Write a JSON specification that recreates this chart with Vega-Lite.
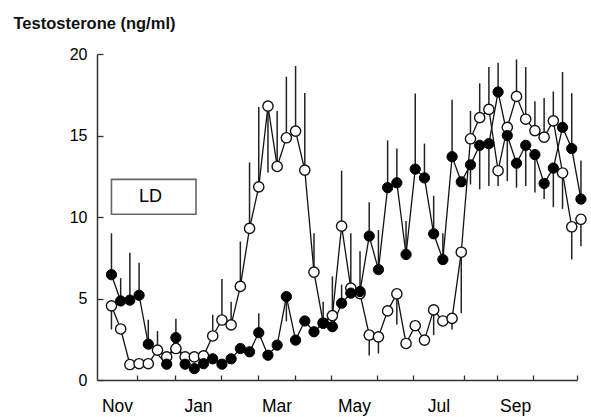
{
  "$schema": "https://vega.github.io/schema/vega-lite/v6.json",
  "width": 480,
  "height": 326,
  "autosize": {"type": "none"},
  "padding": {"left": 97, "top": 54, "right": 14, "bottom": 37},
  "background": "white",
  "config": {"view": {"stroke": null}, "font": "Liberation Sans", "axis": {"grid": false}},
  "resolve": {"axis": {"x": "independent", "y": "independent"}},
  "datasets": {
    "obs": [
      {"w":0,"day":11,"g":"filled","t":6.46,"lo":6.46,"hi":9.0},
      {"w":1,"day":18,"g":"filled","t":4.85,"lo":4.85,"hi":6.25},
      {"w":2,"day":25,"g":"filled","t":4.9,"lo":4.9,"hi":7.8},
      {"w":3,"day":32,"g":"filled","t":5.2,"lo":5.2,"hi":7.2},
      {"w":4,"day":39,"g":"filled","t":2.2,"lo":2.2,"hi":3.7},
      {"w":6,"day":53,"g":"filled","t":0.97,"lo":0.97,"hi":0.97},
      {"w":7,"day":60,"g":"filled","t":2.6,"lo":2.6,"hi":3.75},
      {"w":8,"day":67,"g":"filled","t":0.97,"lo":0.97,"hi":0.97},
      {"w":9,"day":74,"g":"filled","t":0.7,"lo":0.7,"hi":0.7},
      {"w":10,"day":81,"g":"filled","t":1.0,"lo":1.0,"hi":1.0},
      {"w":11,"day":88,"g":"filled","t":1.3,"lo":1.3,"hi":1.3},
      {"w":12,"day":95,"g":"filled","t":0.97,"lo":0.97,"hi":0.97},
      {"w":13,"day":102,"g":"filled","t":1.3,"lo":1.3,"hi":1.3},
      {"w":14,"day":109,"g":"filled","t":1.93,"lo":1.93,"hi":1.93},
      {"w":15,"day":116,"g":"filled","t":1.73,"lo":1.73,"hi":1.73},
      {"w":16,"day":123,"g":"filled","t":2.9,"lo":2.9,"hi":4.1},
      {"w":17,"day":130,"g":"filled","t":1.52,"lo":1.52,"hi":1.52},
      {"w":18,"day":137,"g":"filled","t":2.14,"lo":2.14,"hi":2.14},
      {"w":19,"day":144,"g":"filled","t":5.12,"lo":3.6,"hi":5.12},
      {"w":20,"day":151,"g":"filled","t":2.45,"lo":2.45,"hi":2.45},
      {"w":21,"day":158,"g":"filled","t":3.62,"lo":3.62,"hi":3.62},
      {"w":22,"day":165,"g":"filled","t":2.96,"lo":2.96,"hi":2.96},
      {"w":23,"day":172,"g":"filled","t":3.48,"lo":3.48,"hi":4.8},
      {"w":24,"day":179,"g":"filled","t":3.27,"lo":3.27,"hi":3.27},
      {"w":25,"day":186,"g":"filled","t":4.71,"lo":4.71,"hi":5.85},
      {"w":26,"day":193,"g":"filled","t":5.33,"lo":5.33,"hi":5.33},
      {"w":27,"day":200,"g":"filled","t":5.43,"lo":5.43,"hi":7.9},
      {"w":28,"day":207,"g":"filled","t":8.83,"lo":8.83,"hi":10.9},
      {"w":29,"day":214,"g":"filled","t":6.77,"lo":6.77,"hi":9.2},
      {"w":30,"day":221,"g":"filled","t":11.8,"lo":11.8,"hi":14.7},
      {"w":31,"day":228,"g":"filled","t":12.1,"lo":12.1,"hi":14.2},
      {"w":32,"day":235,"g":"filled","t":7.7,"lo":7.7,"hi":9.75},
      {"w":33,"day":242,"g":"filled","t":12.94,"lo":12.94,"hi":17.57},
      {"w":34,"day":249,"g":"filled","t":12.4,"lo":12.4,"hi":14.5},
      {"w":35,"day":256,"g":"filled","t":8.97,"lo":8.97,"hi":11.3},
      {"w":36,"day":263,"g":"filled","t":7.39,"lo":7.39,"hi":9.0},
      {"w":37,"day":270,"g":"filled","t":13.7,"lo":13.7,"hi":17.2},
      {"w":38,"day":277,"g":"filled","t":12.16,"lo":12.16,"hi":12.16},
      {"w":39,"day":284,"g":"filled","t":13.2,"lo":12.0,"hi":13.2},
      {"w":40,"day":291,"g":"filled","t":14.4,"lo":11.7,"hi":14.4},
      {"w":41,"day":298,"g":"filled","t":14.5,"lo":11.9,"hi":14.5},
      {"w":42,"day":305,"g":"filled","t":17.67,"lo":17.67,"hi":19.46},
      {"w":43,"day":312,"g":"filled","t":15.0,"lo":12.2,"hi":15.0},
      {"w":44,"day":319,"g":"filled","t":13.3,"lo":11.8,"hi":13.3},
      {"w":45,"day":326,"g":"filled","t":14.4,"lo":11.9,"hi":14.4},
      {"w":46,"day":333,"g":"filled","t":13.83,"lo":11.5,"hi":13.83},
      {"w":47,"day":340,"g":"filled","t":12.06,"lo":11.1,"hi":12.06},
      {"w":48,"day":347,"g":"filled","t":13.0,"lo":10.6,"hi":13.0},
      {"w":49,"day":354,"g":"filled","t":15.5,"lo":15.5,"hi":18.9},
      {"w":50,"day":361,"g":"filled","t":14.2,"lo":14.2,"hi":17.6},
      {"w":51,"day":368,"g":"filled","t":11.1,"lo":11.1,"hi":13.46},
      {"w":0,"day":11,"g":"open","t":4.55,"lo":3.1,"hi":4.55},
      {"w":1,"day":18,"g":"open","t":3.13,"lo":3.13,"hi":3.13},
      {"w":2,"day":25,"g":"open","t":0.95,"lo":0.95,"hi":0.95},
      {"w":3,"day":32,"g":"open","t":1.0,"lo":1.0,"hi":1.0},
      {"w":4,"day":39,"g":"open","t":1.0,"lo":1.0,"hi":1.0},
      {"w":5,"day":46,"g":"open","t":1.83,"lo":1.83,"hi":3.0},
      {"w":6,"day":53,"g":"open","t":1.42,"lo":1.42,"hi":1.42},
      {"w":7,"day":60,"g":"open","t":1.93,"lo":1.93,"hi":1.93},
      {"w":8,"day":67,"g":"open","t":1.42,"lo":1.42,"hi":1.42},
      {"w":9,"day":74,"g":"open","t":1.42,"lo":1.42,"hi":1.42},
      {"w":10,"day":81,"g":"open","t":1.48,"lo":1.48,"hi":1.48},
      {"w":11,"day":88,"g":"open","t":2.7,"lo":2.7,"hi":4.0},
      {"w":12,"day":95,"g":"open","t":3.68,"lo":3.68,"hi":6.2},
      {"w":13,"day":102,"g":"open","t":3.38,"lo":3.38,"hi":4.8},
      {"w":14,"day":109,"g":"open","t":5.74,"lo":5.74,"hi":8.5},
      {"w":15,"day":116,"g":"open","t":9.3,"lo":9.3,"hi":13.35},
      {"w":16,"day":123,"g":"open","t":11.85,"lo":11.85,"hi":16.75},
      {"w":17,"day":130,"g":"open","t":16.8,"lo":12.73,"hi":16.8},
      {"w":18,"day":137,"g":"open","t":13.1,"lo":13.1,"hi":16.5},
      {"w":19,"day":144,"g":"open","t":14.86,"lo":14.86,"hi":18.6},
      {"w":20,"day":151,"g":"open","t":15.27,"lo":15.27,"hi":19.26},
      {"w":21,"day":158,"g":"open","t":12.88,"lo":12.88,"hi":17.6},
      {"w":22,"day":165,"g":"open","t":6.62,"lo":6.62,"hi":9.0},
      {"w":23,"day":172,"g":"open","t":3.5,"lo":3.5,"hi":3.5},
      {"w":24,"day":179,"g":"open","t":3.95,"lo":3.95,"hi":6.36},
      {"w":25,"day":186,"g":"open","t":9.44,"lo":9.44,"hi":12.84},
      {"w":26,"day":193,"g":"open","t":5.64,"lo":5.64,"hi":9.0},
      {"w":27,"day":200,"g":"open","t":5.3,"lo":5.3,"hi":5.3},
      {"w":28,"day":207,"g":"open","t":2.76,"lo":1.5,"hi":2.76},
      {"w":29,"day":214,"g":"open","t":2.65,"lo":1.63,"hi":2.65},
      {"w":30,"day":221,"g":"open","t":4.24,"lo":4.24,"hi":4.24},
      {"w":31,"day":228,"g":"open","t":5.29,"lo":3.4,"hi":5.29},
      {"w":32,"day":235,"g":"open","t":2.24,"lo":2.24,"hi":2.24},
      {"w":33,"day":242,"g":"open","t":3.33,"lo":3.33,"hi":3.33},
      {"w":34,"day":249,"g":"open","t":2.45,"lo":2.45,"hi":2.45},
      {"w":35,"day":256,"g":"open","t":4.3,"lo":2.75,"hi":4.3},
      {"w":36,"day":263,"g":"open","t":3.62,"lo":3.62,"hi":3.62},
      {"w":37,"day":270,"g":"open","t":3.78,"lo":3.1,"hi":3.78},
      {"w":38,"day":277,"g":"open","t":7.84,"lo":4.1,"hi":7.84},
      {"w":39,"day":284,"g":"open","t":14.8,"lo":14.8,"hi":16.5},
      {"w":40,"day":291,"g":"open","t":16.1,"lo":16.1,"hi":18.2},
      {"w":41,"day":298,"g":"open","t":16.6,"lo":16.6,"hi":19.2},
      {"w":42,"day":305,"g":"open","t":12.84,"lo":11.9,"hi":12.84},
      {"w":43,"day":312,"g":"open","t":15.5,"lo":15.5,"hi":15.5},
      {"w":44,"day":319,"g":"open","t":17.4,"lo":17.4,"hi":19.67},
      {"w":45,"day":326,"g":"open","t":16.0,"lo":16.0,"hi":19.2},
      {"w":46,"day":333,"g":"open","t":15.3,"lo":15.3,"hi":17.1},
      {"w":47,"day":340,"g":"open","t":14.9,"lo":14.9,"hi":17.3},
      {"w":48,"day":347,"g":"open","t":15.9,"lo":15.9,"hi":17.7},
      {"w":49,"day":354,"g":"open","t":12.7,"lo":10.5,"hi":12.7},
      {"w":50,"day":361,"g":"open","t":9.4,"lo":7.4,"hi":9.4},
      {"w":51,"day":368,"g":"open","t":9.86,"lo":8.2,"hi":9.86}
    ],
    "tag": [{"x1": 11, "x2": 75.3, "y1": 10.17, "y2": 12.31, "xm": 40.7, "ym": 11.25, "label": "LD"}]
  },
  "layer": [
    {
      "data": {"name": "obs"},
      "mark": {"type": "rule", "color": "#222", "strokeWidth": 1.5},
      "encoding": {
        "x": {
          "field": "day", "type": "quantitative", "title": null,
          "scale": {"domain": [0, 365], "nice": false, "zero": false},
          "axis": {
            "orient": "top", "offset": -326,
            "values": [30.4, 59.3, 94.3, 122.4, 150.6, 177.9, 212.9, 240.3, 279.1, 304.2, 331.5, 365],
            "labels": false, "title": null,
            "tickSize": 5, "tickColor": "#333", "tickWidth": 1.3,
            "domainColor": "#333", "domainWidth": 1.5
          }
        },
        "y": {
          "field": "lo", "type": "quantitative", "title": null,
          "scale": {"domain": [0, 20], "nice": false, "zero": true},
          "axis": {
            "orient": "right", "offset": -480,
            "values": [0, 5, 10, 15, 20], "labels": false, "title": null,
            "tickSize": 6, "tickColor": "#333", "tickWidth": 1.3,
            "domainColor": "#333", "domainWidth": 1.5
          }
        },
        "y2": {"field": "hi"}
      }
    },
    {
      "data": {"name": "obs"},
      "mark": {"type": "line", "color": "#111", "strokeWidth": 1.3},
      "encoding": {
        "x": {
          "field": "day", "type": "quantitative", "title": null,
          "axis": {
            "orient": "bottom", "title": null,
            "values": [15.2, 76.8, 136.5, 195.4, 259.7, 317.9],
            "labelExpr": "datum.value==15.2?'Nov':datum.value==76.8?'Jan':datum.value==136.5?'Mar':datum.value==195.4?'May':datum.value==259.7?'Jul':'Sep'",
            "ticks": false, "tickSize": 0, "domain": false,
            "labelFontSize": 17.5, "labelColor": "#000", "labelPadding": 17,
            "labelOverlap": false, "labelBound": false, "labelFlush": false
          }
        },
        "y": {
          "field": "t", "type": "quantitative", "title": "Testosterone (ng/ml)",
          "axis": {
            "orient": "left",
            "values": [0, 5, 10, 15, 20],
            "ticks": false, "tickSize": 0, "domain": false,
            "labelFontSize": 16, "labelColor": "#000", "labelPadding": 10,
            "labelOverlap": false, "labelFlush": false,
            "titleAngle": 0, "titleAlign": "left", "titleBaseline": "alphabetic",
            "titleX": -84, "titleY": -26, "titleFontSize": 16.5, "titleFontWeight": "bold", "titleColor": "#111"
          }
        },
        "detail": {"field": "g"},
        "order": {"field": "w"}
      }
    },
    {
      "data": {"name": "obs"},
      "transform": [{"filter": "datum.g=='open'"}],
      "mark": {"type": "point", "shape": "circle", "filled": true, "fill": "white", "stroke": "#111", "strokeWidth": 1.4, "size": 105, "opacity": 1},
      "encoding": {
        "x": {"field": "day", "type": "quantitative", "axis": null},
        "y": {"field": "t", "type": "quantitative", "axis": null}
      }
    },
    {
      "data": {"name": "obs"},
      "transform": [{"filter": "datum.g=='filled'"}],
      "mark": {"type": "point", "shape": "circle", "filled": true, "fill": "#000", "stroke": "#000", "strokeWidth": 1, "size": 105, "opacity": 1},
      "encoding": {
        "x": {"field": "day", "type": "quantitative", "axis": null},
        "y": {"field": "t", "type": "quantitative", "axis": null}
      }
    },
    {
      "data": {"name": "tag"},
      "mark": {"type": "rect", "fill": "white", "stroke": "#666", "strokeWidth": 1.6},
      "encoding": {
        "x": {"field": "x1", "type": "quantitative", "axis": null},
        "x2": {"field": "x2"},
        "y": {"field": "y1", "type": "quantitative", "axis": null},
        "y2": {"field": "y2"}
      }
    },
    {
      "data": {"name": "tag"},
      "mark": {"type": "text", "fontSize": 18, "color": "#000", "align": "center", "baseline": "middle"},
      "encoding": {
        "x": {"field": "xm", "type": "quantitative", "axis": null},
        "y": {"field": "ym", "type": "quantitative", "axis": null},
        "text": {"field": "label"}
      }
    }
  ]
}
